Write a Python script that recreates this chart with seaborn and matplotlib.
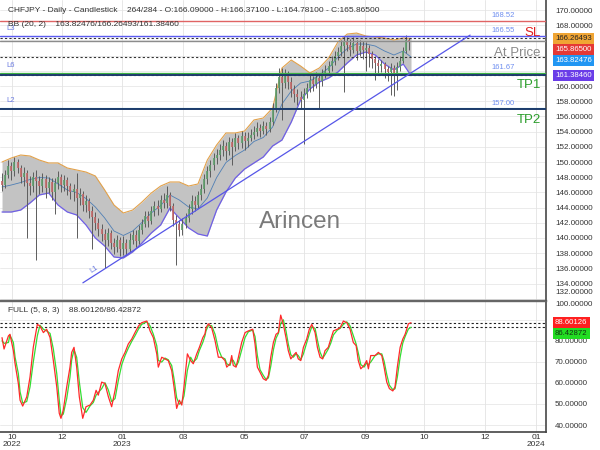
import matplotlib
matplotlib.use("Agg")
import matplotlib.pyplot as plt
import matplotlib.transforms as mtransforms
import numpy as np
import seaborn as sns

# ---------------- data ----------------
candle_bars = list(range(0, 264, 2))
first_open = 147.5
close = [147.0, 148.3, 149.5, 148.8, 150.0, 149.2, 148.0, 148.6, 147.2, 146.8,
         148.0, 147.5, 146.9, 147.8, 146.6, 147.4, 146.0, 147.2, 148.0, 147.0,
         147.6, 146.8, 146.0, 146.5, 145.2, 145.8, 144.3, 144.9, 143.6, 142.8,
         142.0, 141.2, 140.5, 139.8, 140.6, 139.4, 138.8, 139.7, 138.5, 139.3,
         138.6, 139.8, 140.4, 139.6, 141.0, 141.8, 142.9, 142.2, 143.5, 144.2,
         143.8, 145.0, 144.6, 145.6, 144.2, 142.4, 141.8, 141.0, 141.9, 142.6,
         143.8, 144.9, 144.3, 145.6, 146.4, 147.8, 148.8, 149.6, 150.5, 150.9,
         151.6, 152.1, 151.4, 152.6, 152.0, 153.1, 152.5, 153.4, 152.8, 153.2,
         153.6, 154.0, 154.5, 154.1, 154.8, 154.4, 155.2, 157.0, 159.8, 161.2,
         160.4, 161.6, 160.5, 159.6, 159.0, 158.6, 158.2, 159.0, 159.7, 160.8,
         160.2, 161.1, 160.6, 161.6, 162.0, 162.6, 163.3, 163.9, 164.5, 165.3,
         165.9, 165.4, 164.8, 165.6, 164.6, 165.3, 164.8, 165.0, 164.2, 163.5,
         163.0, 162.6, 162.9, 162.2, 161.8, 162.4, 161.6, 162.5, 163.3, 164.6,
         166.1, 165.865]
high = [148.6, 149.0, 150.3, 150.0, 150.6, 150.4, 149.6, 149.4, 149.0, 148.1,
        148.7, 148.9, 148.2, 148.6, 148.3, 148.0, 147.9, 147.9, 148.8, 148.4,
        148.3, 148.0, 147.3, 147.1, 148.5, 146.6, 146.2, 145.6, 145.3, 144.2,
        143.4, 142.6, 141.9, 141.2, 141.3, 141.0, 140.0, 140.4, 140.1, 140.2,
        139.9, 140.6, 141.1, 141.0, 141.7, 142.5, 143.6, 143.5, 144.2, 144.9,
        145.0, 145.7, 145.9, 146.8, 146.0, 144.6, 143.0, 142.4, 142.6, 143.3,
        144.5, 145.6, 145.5, 146.2, 147.1, 148.4, 149.5, 150.3, 151.2, 151.7,
        152.4, 152.9, 152.6, 153.3, 153.1, 153.8, 153.6, 154.1, 153.9, 154.0,
        154.3, 154.7, 155.2, 155.0, 155.4, 155.3, 155.9, 157.8, 160.4, 162.4,
        162.4, 162.3, 162.0, 161.2, 160.1, 159.6, 159.3, 159.8, 160.4, 161.5,
        161.3, 161.8, 161.6, 162.3, 162.8, 163.3, 164.0, 164.6, 165.2, 166.0,
        166.6, 166.5, 166.2, 166.4, 166.0, 166.1, 165.9, 165.8, 165.4, 164.6,
        164.0, 163.6, 163.4, 163.2, 162.7, 163.0, 162.8, 163.1, 164.0, 165.2,
        166.7, 166.371]
low = [146.2, 146.6, 147.9, 147.6, 148.2, 148.5, 147.2, 146.9, 140.0, 145.6,
       146.0, 137.1, 145.8, 146.1, 145.2, 145.9, 145.0, 143.2, 146.5, 146.1,
       146.2, 145.7, 145.1, 144.9, 140.0, 144.4, 143.5, 143.4, 142.6, 138.5,
       141.0, 140.2, 139.6, 136.1, 139.0, 138.6, 137.9, 138.2, 137.6, 137.8,
       137.7, 138.1, 139.2, 138.8, 139.2, 140.5, 141.4, 141.5, 141.9, 142.9,
       143.0, 143.4, 143.9, 144.0, 143.5, 141.6, 136.4, 140.2, 140.4, 141.3,
       142.1, 143.2, 143.6, 143.9, 145.0, 145.9, 147.1, 148.0, 148.9, 149.8,
       150.2, 150.8, 150.3, 150.9, 149.6, 151.4, 151.7, 151.9, 151.6, 152.0,
       152.7, 153.0, 153.4, 153.3, 153.7, 153.6, 153.9, 154.9, 156.6, 159.1,
       155.5, 159.8, 159.6, 158.6, 157.9, 157.5, 157.0, 152.4, 158.4, 159.2,
       159.4, 159.7, 157.1, 160.0, 161.0, 161.4, 162.0, 162.8, 163.4, 164.0,
       159.2, 164.6, 164.0, 164.3, 163.4, 164.0, 163.6, 162.0, 162.5, 162.4,
       160.8, 161.6, 161.8, 161.1, 160.7, 158.8, 158.7, 159.5, 162.0, 163.0,
       164.3, 164.781]

band_bars = list(range(0, 259, 6)) + [263]
bb_upper = [150.0, 150.53, 150.92, 150.79, 150.26, 149.87, 149.87, 149.21, 148.95, 148.68,
            148.16, 146.32, 144.34, 143.29, 143.68, 144.74, 145.92, 146.84, 147.37, 147.37,
            146.84, 147.11, 150.26, 152.24, 153.82, 153.82, 154.08, 155.53, 155.79, 157.11,
            162.37, 163.42, 162.63, 161.71, 162.37, 163.68, 165.79, 166.84, 166.97, 166.58,
            166.45, 166.32, 166.05, 166.32, 166.26]
bb_lower = [143.42, 143.42, 143.68, 144.61, 145.66, 145.92, 144.34, 143.42, 143.03, 141.71,
            140.0, 138.95, 137.5, 137.37, 138.16, 139.34, 140.66, 141.71, 143.95, 142.63,
            141.32, 140.53, 140.26, 143.68, 146.05, 147.89, 149.08, 149.87, 150.66, 152.11,
            152.89, 155.26, 158.16, 159.61, 160.53, 161.05, 161.84, 163.03, 164.08, 164.47,
            164.08, 162.89, 162.11, 162.89, 161.38]

stoch_bars = [0, 1.3, 4.1, 5.1, 7.3, 8.4, 10.5, 11.6, 13.3, 15.9,
              18.0, 20.1, 22.7, 24.4, 26.6, 28.7, 30.9, 33.0, 35.2, 36.8,
              37.9, 39.4, 41.6, 43.7, 44.8, 46.3, 48.0, 49.7, 51.9, 54.0,
              56.6, 58.7, 60.5, 61.9, 64.1, 66.2, 68.4, 70.5, 72.7, 74.8,
              77.0, 79.1, 81.2, 83.4, 85.5, 87.7, 89.8, 93.1, 95.2, 97.3,
              99.5, 100.5, 102.7, 104.8, 106.9, 109.1, 110.6, 112.3, 114.0, 115.6,
              117.0, 119.2, 121.3, 123.0, 125.2, 126.9, 129.1, 130.5, 131.2, 132.7,
              134.8, 137.0, 139.1, 141.3, 143.4, 144.5, 146.6, 147.7, 148.7, 150.5,
              152.0, 154.1, 156.3, 158.4, 161.2, 162.7, 164.2, 165.9, 168.0, 169.8,
              171.3, 172.8, 174.5, 176.2, 177.7, 179.2, 180.9, 182.6, 184.1, 185.7,
              187.3, 189.1, 190.5, 192.1, 193.8, 195.9, 197.6, 199.2, 201.3, 202.8,
              204.5, 206.2, 207.7, 209.8, 211.4, 213.1, 215.6, 217.4, 219.5, 221.7,
              223.8, 225.9, 227.7, 229.1, 230.7, 232.8, 234.5, 235.6, 237.1, 239.9,
              242.0, 244.2, 245.7, 247.4, 249.1, 251.3, 252.7, 254.2, 256.0, 257.7,
              259.2, 261.3, 263.0]
stoch_k = [81.5, 76.1, 82.3, 83.1, 75.3, 69.1, 59.7, 51.8, 49.0, 53.4,
           62.8, 76.9, 87.8, 87.0, 83.9, 85.5, 81.5, 70.6, 58.1, 45.6,
           43.2, 47.1, 58.1, 67.5, 74.5, 76.9, 67.5, 53.4, 43.2, 48.7,
           49.5, 51.8, 56.5, 54.2, 60.4, 59.7, 53.4, 48.7, 56.5, 65.9,
           71.4, 74.5, 78.5, 80.8, 83.9, 87.0, 88.6, 89.4, 84.7, 81.5,
           73.8, 67.5, 72.2, 71.4, 70.6, 65.9, 58.1, 47.9, 51.8, 49.5,
           58.1, 73.8, 70.6, 69.1, 73.8, 76.9, 81.5, 83.3, 86.2, 88.1,
           86.2, 80.0, 72.2, 72.2, 70.6, 67.5, 69.1, 73.0, 68.3, 67.5,
           72.2, 79.2, 83.9, 84.7, 85.5, 78.5, 67.5, 65.1, 62.0, 61.2,
           63.6, 72.2, 79.2, 83.1, 83.9, 92.2, 87.8, 81.5, 75.3, 71.4,
           73.0, 74.5, 71.4, 70.6, 76.9, 80.8, 85.5, 87.8, 83.9, 76.9,
           72.2, 71.4, 75.3, 76.9, 80.8, 84.7, 85.5, 86.2, 89.4, 88.6,
           85.5, 79.2, 77.7, 70.6, 66.7, 68.3, 70.6, 66.7, 73.0, 73.0,
           74.5, 73.0, 67.5, 60.4, 57.3, 56.2, 58.1, 67.5, 76.9, 80.8,
           83.1, 88.1, 88.60126]
stoch_d = [80.0, 78.8, 79.2, 82.7, 79.2, 72.2, 64.4, 55.8, 50.4, 51.2,
           58.1, 69.9, 82.4, 87.4, 85.5, 84.7, 83.5, 76.1, 64.4, 51.9,
           44.4, 45.2, 52.6, 62.8, 71.0, 75.7, 72.2, 60.5, 48.3, 46.0,
           49.1, 50.7, 54.2, 55.4, 57.3, 60.1, 56.6, 51.1, 52.6, 61.2,
           68.7, 73.0, 76.5, 79.7, 82.4, 85.5, 87.8, 89.0, 87.1, 83.1,
           77.7, 70.7, 69.9, 71.8, 71.0, 68.3, 62.0, 53.0, 49.9, 50.7,
           53.8, 66.0, 72.2, 69.9, 71.5, 75.4, 79.2, 82.4, 84.8, 87.2,
           87.2, 83.1, 76.1, 72.2, 71.4, 69.1, 68.3, 71.1, 70.7, 67.9,
           69.9, 75.7, 81.6, 84.3, 85.1, 82.0, 73.0, 66.3, 63.6, 61.6,
           62.4, 67.9, 75.7, 81.2, 83.5, 88.1, 90.0, 84.7, 78.4, 73.4,
           72.2, 73.8, 73.0, 71.0, 73.8, 78.9, 83.2, 86.7, 85.9, 80.4,
           74.6, 71.8, 73.4, 76.1, 78.9, 82.8, 85.1, 85.9, 87.8, 89.0,
           87.1, 82.4, 78.5, 74.2, 68.7, 67.5, 69.5, 68.7, 69.9, 73.0,
           73.8, 73.8, 70.3, 64.0, 58.9, 56.8, 57.2, 62.8, 72.2, 78.9,
           82.0, 85.6, 86.42872]

x_tick_bars = [6.4, 38.6, 77.2, 116.4, 155.6, 194.2, 233.4, 271.4, 310.6, 343.4]
x_tick_labels = ["10\n2022", "12", "01\n2023", "03", "05", "07", "09", "10", "12", "01\n2024"]
price_ticks = list(range(134, 171, 2))
price_ticks_covered = [162, 164, 166]
stoch_ticks = [40, 50, 60, 70, 80, 90]
stoch_ticks_covered = [90]

sl_level = 168.52
l3_level = 166.55
l6_level = 161.50
tp1_level = 161.67
l2_level = 156.98
tp2_level = 157.10
at_price = 165.865
level_label_values = [168.52, 166.55, 161.67, 157.00]
bb_last = [166.26493, 163.82476, 161.38460]
stoch_last = [88.60126, 86.42872]
trend_bars = [52, 301]
trend_prices = [134.1, 166.7]

header1 = "CHFJPY - Daily - Candlestick    264/284 - O:166.09000 - H:166.37100 - L:164.78100 - C:165.86500"
header2 = "BB (20, 2)    163.82476/166.26493/161.38460"
header3 = "FULL (5, 8, 3)    88.60126/86.42872"

# ---------------- style ----------------
sns.set_theme(style="white")
plt.rcParams['font.family'] = ['Liberation Sans', 'DejaVu Sans']

fig = plt.figure(figsize=(6, 4.5), dpi=100)
AXW = 546 / 600
ax1 = fig.add_axes([0, 1 - 300 / 450, AXW, 300 / 450])
ax2 = fig.add_axes([0, 1 - 432 / 450, AXW, 131 / 450])
XL = (-1.3, 349.8)

# ---------- main panel ----------
ax1.set_xlim(*XL)
ax1.set_ylim(131.84, 171.32)
for p in range(132, 172, 2):
    ax1.axhline(p, color='#e8e8e8', lw=0.6, zorder=0)
for b in x_tick_bars:
    ax1.axvline(b, color='#e3e3e3', lw=0.6, zorder=0)

bu = np.array(bb_upper)
bl = np.array(bb_lower)
bm = (bu + bl) / 2
ax1.fill_between(band_bars, bl, bu, color='#c3c3c3', zorder=1, lw=0)
sns.lineplot(x=band_bars, y=bu, ax=ax1, color='#e2a14a', lw=0.8, zorder=2)
sns.lineplot(x=band_bars, y=bl, ax=ax1, color='#6f5fe6', lw=0.9, zorder=2)
sns.lineplot(x=band_bars, y=bm, ax=ax1, color='#4f7fb5', lw=0.6, zorder=2)

c = np.array(close)
o = np.array([first_open] + close[:-1])
h = np.array(high)
lo = np.array(low)
ax1.vlines(candle_bars, lo, h, colors='#5c5c5c', lw=0.7, zorder=3)
body_col = np.where(c >= o, '#5d9e6b', '#c46767')
ax1.vlines(candle_bars, np.minimum(o, c), np.maximum(o, c), colors=body_col, lw=1.2, zorder=4)

# levels
ax1.axhline(sl_level, color='#e06464', lw=1.0, zorder=5)
ax1.axhline(l3_level, color='#5a5af0', lw=1.0, zorder=5)
ax1.axhline(at_price, color='#8c8c8c', lw=1.0, zorder=5)
for v in bb_last:
    ax1.axhline(v, color='#333333', lw=0.8, ls=(0, (2, 2)), zorder=5)
ax1.axhline(tp1_level, color='#3cb043', lw=0.9, zorder=5)
ax1.axhline(l6_level, color='#1c3a6b', lw=1.4, zorder=5)
ax1.axhline(tp2_level, color='#39a9bb', lw=0.8, zorder=5)
ax1.axhline(l2_level, color='#1c3a6b', lw=1.4, zorder=5)

sns.lineplot(x=trend_bars, y=trend_prices, ax=ax1, color='#5656e8', lw=0.9, zorder=6)
ax1.text(55.5, 135.9, "L1", color='#6b7be0', fontsize=5.5, rotation=33,
         ha='left', va='center', zorder=6)

for v in level_label_values:
    ax1.text(315, v + 0.72, f"{v:.2f}", color='#6f8ff0', fontsize=5.5,
             ha='left', va='center', zorder=7)
for name, v in [("L3", l3_level), ("L6", tp1_level), ("L2", 157.0)]:
    ax1.text(2.5, v + 1.05, name, color='#6b7be0', fontsize=5.5, ha='left', va='center', zorder=7)

ax1.text(346.5, 166.97, "SL", color='#e02020', fontsize=9.5, ha='right', va='center', zorder=7)
ax1.text(346.5, 164.34, "At Price", color='#8a8a8a', fontsize=9.5, ha='right', va='center', zorder=7)
ax1.text(346.5, 160.13, "TP1", color='#2a9d2a', fontsize=9.5, ha='right', va='center', zorder=7)
ax1.text(346.5, 155.53, "TP2", color='#2a9d2a', fontsize=9.5, ha='right', va='center', zorder=7)

ax1.text(8 / 546, 1 - 10 / 300, header1, transform=ax1.transAxes, fontsize=6,
         color='#333333', ha='left', va='center', zorder=8)
ax1.text(8 / 546, 1 - 25 / 300, header2, transform=ax1.transAxes, fontsize=6,
         color='#333333', ha='left', va='center', zorder=8)
ax1.text(300 / 546, 1 - 222 / 300, "Arincen", transform=ax1.transAxes, fontsize=17.5,
         color='#7a7a7a', ha='center', va='center', zorder=0.5)

ax1.yaxis.tick_right()
ax1.set_yticks(price_ticks)
ax1.set_yticklabels(["" if v in price_ticks_covered else f"{v:.5f}" for v in price_ticks])
ax1.tick_params(axis='y', length=0, pad=6.5, labelsize=5.8, colors='#333333')
ax1.set_xticks([])
ax1.text(1 + 9 / 546, 1 - 293 / 300, "132.00000", transform=ax1.transAxes,
         fontsize=5.8, color='#333333', ha='left', va='center', clip_on=False)
for s in ['left', 'top']:
    ax1.spines[s].set_visible(False)
ax1.spines['right'].set_color('#555555')
ax1.spines['right'].set_linewidth(1.3)
ax1.spines['bottom'].set_color('#666666')
ax1.spines['bottom'].set_linewidth(1.0)


def value_boxes(ax, vals, fcs, tcs, gap):
    tr = mtransforms.blended_transform_factory(ax.transAxes, ax.transData)
    prev = None
    for v, fc, tc in sorted(zip(vals, fcs, tcs), key=lambda t: -t[0]):
        y = v if prev is None else min(v, prev - gap)
        prev = y
        ax.text(1 + 9 / 546, y, f"{v:.5f}", transform=tr, ha='left', va='center',
                fontsize=5.6, color=tc, clip_on=False, zorder=10,
                bbox=dict(boxstyle='square,pad=0.3', fc=fc, ec='none'))


value_boxes(ax1, [bb_last[0], at_price, bb_last[1], bb_last[2]],
            ['#f0a534', '#e53935', '#2196f3', '#6a3de8'],
            ['#222222', 'white', 'white', 'white'], 1.45)

# ---------- stochastic panel ----------
ax2.set_xlim(*XL)
ax2.set_ylim(36.7, 98.9)
for v in stoch_ticks:
    ax2.axhline(v, color='#e8e8e8', lw=0.6, zorder=0)
for b in x_tick_bars:
    ax2.axvline(b, color='#e3e3e3', lw=0.6, zorder=0)
for v in stoch_last:
    ax2.axhline(v, color='#222222', lw=0.8, ls=(0, (2, 2)), zorder=2)
n = min(len(stoch_bars), len(stoch_k), len(stoch_d))
sns.lineplot(x=stoch_bars[:n], y=stoch_d[:n], ax=ax2, color='#33dd33', lw=0.9, zorder=3)
sns.lineplot(x=stoch_bars[:n], y=stoch_k[:n], ax=ax2, color='#ff2a2a', lw=0.9, zorder=4)
ax2.text(8 / 546, (432 - 311) / 131, header3, transform=ax2.transAxes, fontsize=6,
         color='#333333', ha='left', va='center')

ax2.yaxis.tick_right()
ax2.set_yticks(stoch_ticks)
ax2.set_yticklabels(["" if v in stoch_ticks_covered else f"{v:.5f}" for v in stoch_ticks])
ax2.tick_params(axis='y', length=0, pad=6.5, labelsize=5.8, colors='#333333')
ax2.text(1 + 9 / 546, (432 - 305) / 131, "100.00000", transform=ax2.transAxes,
         fontsize=5.8, color='#333333', ha='left', va='center', clip_on=False)
ax2.set_xticks(x_tick_bars)
ax2.set_xticklabels(x_tick_labels, linespacing=0.95)
ax2.tick_params(axis='x', length=0, pad=1.5, labelsize=6, colors='#333333')
ax2.spines['left'].set_visible(False)
ax2.spines['top'].set_color('#666666')
ax2.spines['top'].set_linewidth(1.0)
ax2.spines['right'].set_color('#555555')
ax2.spines['right'].set_linewidth(1.3)
ax2.spines['bottom'].set_color('#444444')
ax2.spines['bottom'].set_linewidth(1.2)
ax2.set_xlabel("")
ax2.set_ylabel("")
ax1.set_xlabel("")
ax1.set_ylabel("")

value_boxes(ax2, stoch_last, ['#ff2020', '#22dd22'], ['white', '#113311'], 5.2)

fig.savefig("out.png", dpi=100)
